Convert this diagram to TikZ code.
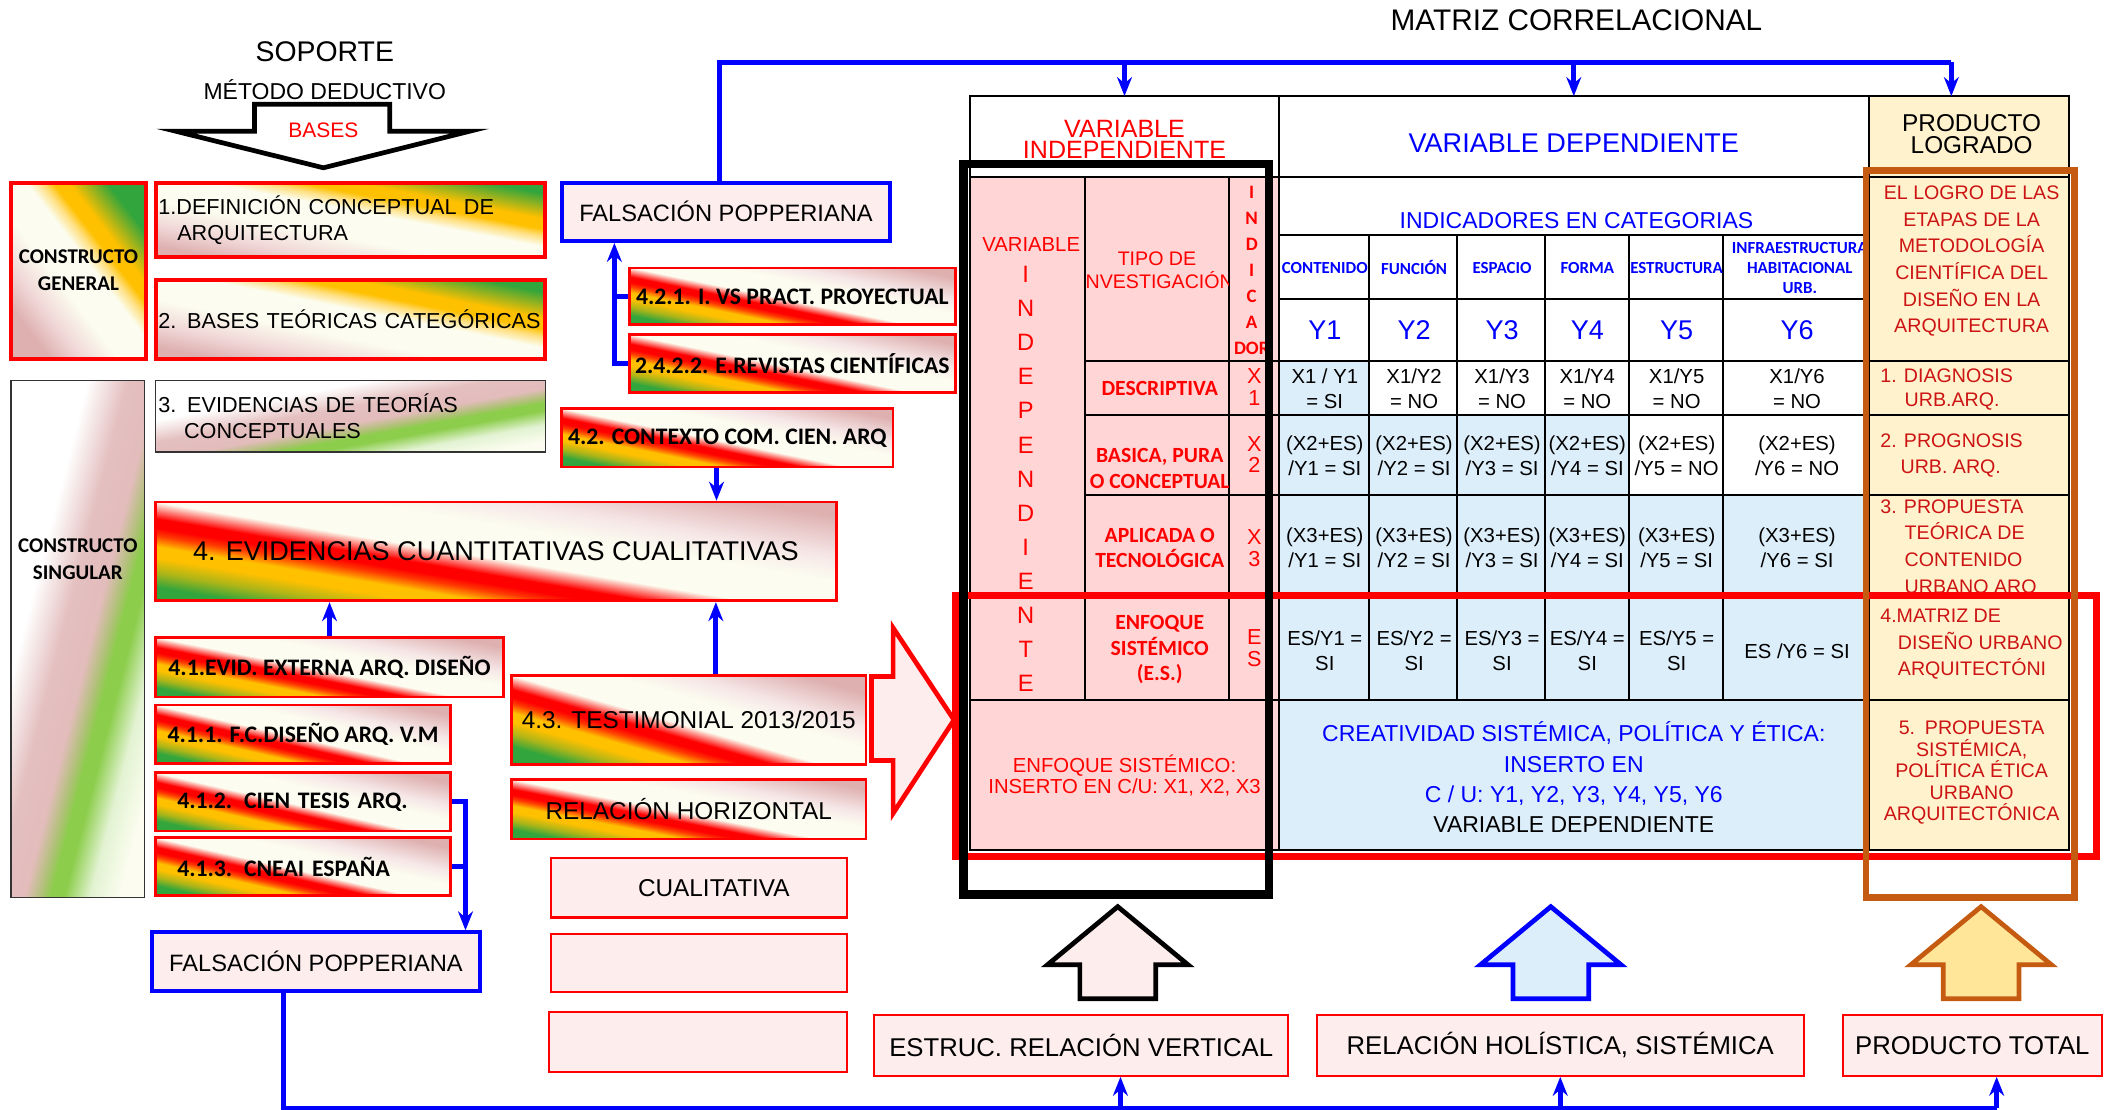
\documentclass[tikz,border=0pt]{standalone}
\usepackage{fontspec}
\setmainfont{Liberation Sans}
\newfontfamily\carl{Carlito}
\usetikzlibrary{arrows.meta}

\definecolor{bblue}{RGB}{0,0,255}
\definecolor{pinkbg}{RGB}{253,237,237}
\definecolor{cpink}{RGB}{255,213,213}
\definecolor{cblue}{RGB}{221,238,251}
\definecolor{cyell}{RGB}{255,242,204}
\definecolor{pred}{RGB}{204,20,20}
\definecolor{orng}{RGB}{197,90,17}
\definecolor{ayell}{RGB}{255,230,153}
\definecolor{sgreen}{RGB}{50,165,60}
\definecolor{syell}{RGB}{255,192,0}
\definecolor{spink}{RGB}{222,176,176}
\definecolor{spinkl}{RGB}{240,214,214}
\definecolor{swhite}{RGB}{252,253,240}
\definecolor{lgreen}{RGB}{140,205,75}

\pgfdeclareverticalshading{evid}{100bp}{color(0bp)=(sgreen); color(25bp)=(sgreen); color(29bp)=(syell!60!sgreen); color(33bp)=(syell); color(36bp)=(syell); color(39bp)=(red!70!syell); color(41bp)=(red); color(43.5bp)=(red); color(48bp)=(swhite); color(57bp)=(swhite); color(64bp)=(spinkl!60!white); color(75bp)=(spink); color(100bp)=(spink)}
\pgfdeclareverticalshading{bases}{100bp}{color(0bp)=(spink); color(25bp)=(spink); color(33bp)=(spinkl); color(43bp)=(swhite); color(54bp)=(swhite); color(58bp)=(syell!50!white); color(61bp)=(syell); color(65bp)=(syell); color(70bp)=(syell!50!sgreen); color(75bp)=(sgreen); color(100bp)=(sgreen)}
\pgfdeclareverticalshading{teor}{100bp}{color(0bp)=(white); color(37bp)=(white); color(46bp)=(spink!80!white); color(53bp)=(spink!85!white); color(57bp)=(lgreen!60!spink); color(59bp)=(lgreen); color(62bp)=(lgreen); color(68bp)=(lgreen!25!white); color(75bp)=(swhite); color(100bp)=(swhite)}

\tikzset{
  fnt/.style 2 args={font=\fontsize{#1}{#2}\selectfont},
  bfc/.style 2 args={font=\carl\bfseries\fontsize{#1}{#2}\selectfont},
  evbox/.style={draw=red, line width=2pt, shading=evid, shading angle=#1, inner sep=0pt, bfc={17.5}{20}},
  bsbox/.style={draw=red, line width=3pt, shading=bases, shading angle=#1, inner sep=0pt},
  tebox/.style={draw=black!80, line width=1pt, shading=teor, shading angle=#1, inner sep=0pt},
  fpbox/.style={draw=bblue, line width=3pt, fill=pinkbg, inner sep=0pt, fnt={17.5}{20}},
  pkbox/.style={draw=red, line width=1.5pt, fill=pinkbg, inner sep=0pt, fnt={19}{22}},
  bline/.style={bblue, line width=4pt},
  barrow/.style={bblue, line width=3.5pt, -{Stealth[length=14pt, width=11pt]}},
  tline/.style={black, line width=1.5pt},
  bigarr/.style={line width=3.5pt, line join=miter},
  cell/.style={fnt={15}{18.5}, align=center},
  prod/.style={fnt={14.5}{19.7}, pred},
}

\begin{document}
\begin{tikzpicture}[x=1pt, y=-1pt]
  \useasboundingbox (0,0) rectangle (1560,820);

  \node[fnt={21}{24}] (sop) at (240,38) {SOPORTE};
  \node[fnt={17}{20}] (met) at (240,66) {MÉTODO DEDUCTIVO};
  \node[fnt={22}{24}] (mat) at (1165,15) {MATRIZ CORRELACIONAL};
  \draw[bigarr, fill=white] (188,77) -- (288,77) -- (288,97) -- (347,97) -- (239,124) -- (130,97) -- (188,97) -- cycle;
  \node[fnt={15.5}{18}, red] (bas) at (239,96) {BASES};

  \node[bsbox=-52.4, minimum width=100pt, minimum height=130pt, bfc={15.5}{20}, align=center] (cg) at (58,200) {CONSTRUCTO\\GENERAL};
  \node[bsbox=-10.8, minimum width=288pt, minimum height=55pt, text width=284pt, align=left, fnt={16}{19}] (d1) at (259,162.5) {1.DEFINICIÓN CONCEPTUAL DE\\\hspace*{14pt}ARQUITECTURA};
  \node[bsbox=-11.4, minimum width=288pt, minimum height=58pt, text width=284pt, align=left, fnt={16}{19}] (d2) at (259,236) {2. BASES TEÓRICAS CATEGÓRICAS};
  \node[tebox=-169.6, minimum width=288pt, minimum height=53pt, text width=284pt, align=left, fnt={16}{19}] (d3) at (259,307.5) {3. EVIDENCIAS DE TEORÍAS\\\hspace*{19pt}CONCEPTUALES};
  \node[tebox=-104.5, minimum width=99pt, minimum height=382pt] (cs) at (57.5,472) {};
  \node[bfc={15.5}{20}, align=center] (cst) at (57.5,413) {CONSTRUCTO\\SINGULAR};

  \node[fpbox, minimum width=243pt, minimum height=43pt] (fp1) at (536.5,156.5) {FALSACIÓN POPPERIANA};
  \node[evbox=-11.6, minimum width=241pt, minimum height=42pt] (b421) at (585.5,219) {4.2.1. I. VS PRACT. PROYECTUAL};
  \node[evbox=-11.6, minimum width=241pt, minimum height=43pt] (b4222) at (585.5,268.5) {2.4.2.2. E.REVISTAS CIENTÍFICAS};
  \node[evbox=-11.5, minimum width=245pt, minimum height=43pt] (b42) at (537.5,323.5) {4.2. CONTEXTO COM. CIEN. ARQ};
  \node[evbox=-9.5, minimum width=503pt, minimum height=73pt, fnt={20}{22}] (b4) at (366.5,407.5) {4. EVIDENCIAS CUANTITATIVAS CUALITATIVAS};
  \node[evbox=-11.2, minimum width=257pt, minimum height=44pt] (b41) at (243.5,493) {4.1.EVID. EXTERNA ARQ. DISEÑO};
  \node[evbox=-12.8, minimum width=218pt, minimum height=43pt] (b411) at (224,542.5) {4.1.1. F.C.DISEÑO ARQ. V.M};
  \node[evbox=-12.8, minimum width=218pt, minimum height=43pt, text width=186pt, align=left] (b412) at (224,592.5) {4.1.2. CIEN TESIS ARQ.};
  \node[evbox=-12.8, minimum width=218pt, minimum height=43pt, text width=186pt, align=left] (b413) at (224,640.5) {4.1.3. CNEAI ESPAÑA};
  \node[fpbox, minimum width=243pt, minimum height=43pt] (fp2) at (233.5,710.5) {FALSACIÓN POPPERIANA};
  \node[evbox=-16, minimum width=262pt, minimum height=66pt, fnt={18}{20}] (b43) at (509,532) {4.3. TESTIMONIAL 2013/2015};
  \node[evbox=-11, minimum width=262pt, minimum height=44pt, fnt={18}{20}] (rh) at (509,598) {RELACIÓN HORIZONTAL};
  \node[pkbox, minimum width=219pt, minimum height=44pt, fnt={18}{20}] (cual) at (516.5,656) {\hspace*{22pt}CUALITATIVA};
  \node[pkbox, minimum width=219pt, minimum height=43pt] (e1) at (516.5,711.5) {};
  \node[pkbox, minimum width=220pt, minimum height=44pt] (e2) at (516,770) {};
  \draw[bigarr, draw=red, fill=pinkbg] (644,500) -- (660,500) -- (660,464) -- (705,532) -- (660,601) -- (660,562) -- (644,562) -- cycle;

  \def\tL{717} \def\cA{802} \def\cB{908} \def\cC{945}
  \def\dA{1012} \def\dB{1077} \def\dC{1142} \def\dD{1204} \def\dE{1273} \def\dF{1381} \def\tR{1529}
  \def\rA{71} \def\rB{131} \def\rC{174} \def\rD{221} \def\rE{267}
  \def\rF{307} \def\rG{366} \def\rH{441} \def\rI{517} \def\rJ{628}

  \fill[cpink] (\tL,\rB) rectangle (\cC,\rJ);
  \fill[cyell] (\dF,\rA) rectangle (\tR,\rJ);
  \fill[cblue] (\cC,\rE) rectangle (\dA,\rF);
  \fill[cblue] (\cC,\rF) rectangle (\dD,\rG);
  \fill[cblue] (\cC,\rG) rectangle (\dF,\rJ);

  \draw[tline] (\tL,\rA) rectangle (\tR,\rJ);
  \draw[tline] (\tL,\rB) -- (\tR,\rB);
  \draw[tline] (\cC,\rA) -- (\cC,\rJ);
  \draw[tline] (\dF,\rA) -- (\dF,\rJ);
  \draw[tline] (\cA,\rB) -- (\cA,\rI);
  \draw[tline] (\cB,\rB) -- (\cB,\rI);
  \draw[tline] (\cC,\rC) -- (\dF,\rC);
  \draw[tline] (\cC,\rD) -- (\dF,\rD);
  \draw[tline] (\cA,\rE) -- (\tR,\rE);
  \draw[tline] (\cA,\rF) -- (\tR,\rF);
  \draw[tline] (\cA,\rG) -- (\tR,\rG);
  \draw[tline] (\cA,\rH) -- (\tR,\rH);
  \draw[tline] (\tL,\rI) -- (\tR,\rI);
  \draw[tline] (\dA,\rC) -- (\dA,\rI);
  \draw[tline] (\dB,\rC) -- (\dB,\rI);
  \draw[tline] (\dC,\rC) -- (\dC,\rI);
  \draw[tline] (\dD,\rC) -- (\dD,\rI);
  \draw[tline] (\dE,\rC) -- (\dE,\rI);

  \node[fnt={18.5}{16}, red, align=center] (hvi) at (831,103) {VARIABLE\\INDEPENDIENTE};
  \node[fnt={20}{22}, bblue] (hvd) at (1163,106) {VARIABLE DEPENDIENTE};
  \node[fnt={18}{16}, align=center] (hpl) at (1457,99) {PRODUCTO\\LOGRADO};

  \node[fnt={15}{18}, red] (vvar) at (762,181) {VARIABLE};
  \node[fnt={17.5}{25.2}, red, align=center] (vind) at (758,354) {I\\N\\D\\E\\P\\E\\N\\D\\I\\E\\N\\T\\E};
  \begin{scope}
    \clip (\cA,\rB) rectangle (\cB,\rE);
    \node[fnt={14.5}{17}, red, align=center] (tipo) at (855,200) {TIPO DE\\INVESTIGACIÓN};
  \end{scope}
  \begin{scope}
    \clip (\cB,\rB) rectangle (\cC,\rE);
    \node[bfc={14}{19.2}, red, align=center] (indi) at (925,200) {I\\N\\D\\I\\C\\A\\DOR};
  \end{scope}
  \node[bfc={16}{19}, red] (tdes) at (857,287) {DESCRIPTIVA};
  \node[bfc={16}{19}, red, align=center] (tbas) at (857,346) {BASICA, PURA\\O CONCEPTUAL};
  \node[bfc={16}{19}, red, align=center] (tapl) at (857,405) {APLICADA O\\TECNOLÓGICA};
  \node[bfc={16}{19}, red, align=center] (tenf) at (857,480) {ENFOQUE\\SISTÉMICO\\(E.S.)};
  \node[fnt={16}{16}, red, align=center] (x1) at (927,286) {X\\1};
  \node[fnt={16}{16}, red, align=center] (x2) at (927,336) {X\\2};
  \node[fnt={16}{16}, red, align=center] (x3) at (927,405) {X\\3};
  \node[fnt={16}{16}, red, align=center] (xes) at (927,479) {E\\S};

  \node[fnt={17}{20}, bblue] (ind) at (1165,163) {INDICADORES EN CATEGORIAS};
  \node[bfc={12.5}{15}, bblue] (k1) at (979,198) {CONTENIDO};
  \node[bfc={12.5}{15}, bblue] (k2) at (1045,198) {FUNCIÓN};
  \node[bfc={12.5}{15}, bblue] (k3) at (1110,198) {ESPACIO};
  \node[bfc={12.5}{15}, bblue] (k4) at (1173,198) {FORMA};
  \node[bfc={12.5}{15}, bblue] (k5) at (1239,198) {ESTRUCTURA};
  \begin{scope}
    \clip (\dE,\rC) rectangle (\dF,\rD);
    \node[bfc={12.5}{15}, bblue, align=center] (k6) at (1330,198) {INFRAESTRUCTURA\\HABITACIONAL\\URB.};
  \end{scope}
  \node[fnt={20}{22}, bblue] (y1) at (979,244) {Y1};
  \node[fnt={20}{22}, bblue] (y2) at (1045,244) {Y2};
  \node[fnt={20}{22}, bblue] (y3) at (1110,244) {Y3};
  \node[fnt={20}{22}, bblue] (y4) at (1173,244) {Y4};
  \node[fnt={20}{22}, bblue] (y5) at (1239,244) {Y5};
  \node[fnt={20}{22}, bblue] (y6) at (1328,244) {Y6};

  \node[cell] (a1) at (979,287) {X1 / Y1\\= SI};
  \node[cell] (a2) at (1045,287) {X1/Y2\\= NO};
  \node[cell] (a3) at (1110,287) {X1/Y3\\= NO};
  \node[cell] (a4) at (1173,287) {X1/Y4\\= NO};
  \node[cell] (a5) at (1239,287) {X1/Y5\\= NO};
  \node[cell] (a6) at (1328,287) {X1/Y6\\= NO};
  \node[cell] (b1) at (979,337) {(X2+ES)\\/Y1 = SI};
  \node[cell] (b2) at (1045,337) {(X2+ES)\\/Y2 = SI};
  \node[cell] (b3) at (1110,337) {(X2+ES)\\/Y3 = SI};
  \node[cell] (b4c) at (1173,337) {(X2+ES)\\/Y4 = SI};
  \node[cell] (b5) at (1239,337) {(X2+ES)\\/Y5 = NO};
  \node[cell] (b6) at (1328,337) {(X2+ES)\\/Y6 = NO};
  \node[cell] (c1) at (979,405) {(X3+ES)\\/Y1 = SI};
  \node[cell] (c2) at (1045,405) {(X3+ES)\\/Y2 = SI};
  \node[cell] (c3) at (1110,405) {(X3+ES)\\/Y3 = SI};
  \node[cell] (c4) at (1173,405) {(X3+ES)\\/Y4 = SI};
  \node[cell] (c5) at (1239,405) {(X3+ES)\\/Y5 = SI};
  \node[cell] (c6) at (1328,405) {(X3+ES)\\/Y6 = SI};
  \node[cell] (e1c) at (979,481) {ES/Y1 =\\SI};
  \node[cell] (e2c) at (1045,481) {ES/Y2 =\\SI};
  \node[cell] (e3c) at (1110,481) {ES/Y3 =\\SI};
  \node[cell] (e4c) at (1173,481) {ES/Y4 =\\SI};
  \node[cell] (e5c) at (1239,481) {ES/Y5 =\\SI};
  \node[cell] (e6c) at (1328,481) {ES /Y6 = SI};

  \begin{scope}
    \clip (\tL,\rI) rectangle (\cC,\rJ);
    \node[fnt={15}{15.5}, red, align=center] (enf) at (831,573) {ENFOQUE SISTÉMICO:\\INSERTO EN C/U: X1, X2, X3};
  \end{scope}
  \node[fnt={17}{22.4}, align=center] (crea) at (1163,574.5) {\textcolor{bblue}{CREATIVIDAD SISTÉMICA, POLÍTICA Y ÉTICA:}\\\textcolor{bblue}{INSERTO EN}\\\textcolor{bblue}{C / U: Y1, Y2, Y3, Y4, Y5, Y6}\\VARIABLE DEPENDIENTE};

  \node[prod, align=center] (plog) at (1457,193) {EL LOGRO DE LAS\\ETAPAS DE LA\\METODOLOGÍA\\CIENTÍFICA DEL\\DISEÑO EN LA\\ARQUITECTURA};
  \node[prod, fnt={14.5}{18}, align=left, anchor=west] (p1) at (1386,288) {1. DIAGNOSIS\\\hspace*{18pt}URB.ARQ.};
  \node[prod, fnt={14.5}{19}, align=left, anchor=west] (p2) at (1386,336.5) {2. PROGNOSIS\\\hspace*{15pt}URB. ARQ.};
  \begin{scope}
    \clip (\dF,\rG) rectangle (\tR,\rH);
    \node[prod, align=left, anchor=west] (p3) at (1386,405) {3. PROPUESTA\\\hspace*{18pt}TEÓRICA DE\\\hspace*{18pt}CONTENIDO\\\hspace*{18pt}URBANO ARQ};
  \end{scope}
  \begin{scope}
    \clip (\dF,\rH) rectangle (\tR,\rI);
    \node[prod, align=left, anchor=west] (p4) at (1386,476) {4.MATRIZ DE\\\hspace*{13pt}DISEÑO URBANO\\\hspace*{13pt}ARQUITECTÓNI};
  \end{scope}
  \node[prod, fnt={14.5}{16}, align=center] (p5) at (1457,571) {5.\enspace PROPUESTA\\SISTÉMICA,\\POLÍTICA ÉTICA\\URBANO\\ARQUITECTÓNICA};

  \draw[red, line width=5pt] (706,440) rectangle (1549,633);
  \draw[black, line width=6pt] (712,121) rectangle (938,661);
  \draw[orng, line width=5pt] (1379,126) rectangle (1533,663);

  \draw[bigarr, fill=pinkbg] (798,738) -- (798,713) -- (774,713) -- (826,670) -- (878,713) -- (854,713) -- (854,738) -- cycle;
  \draw[bigarr, draw=bblue, fill=cblue] (1118,738) -- (1118,713) -- (1094,713) -- (1146,670) -- (1198,713) -- (1174,713) -- (1174,738) -- cycle;
  \draw[bigarr, draw=orng, fill=ayell] (1436,738) -- (1436,713) -- (1412,713) -- (1464,670) -- (1516,713) -- (1492,713) -- (1492,738) -- cycle;
  \node[pkbox, minimum width=306pt, minimum height=45pt] (ev) at (799,772.5) {ESTRUC. RELACIÓN VERTICAL};
  \node[pkbox, minimum width=360pt, minimum height=45pt] (hs) at (1153,772.5) {RELACIÓN HOLÍSTICA, SISTÉMICA};
  \node[pkbox, minimum width=191pt, minimum height=45pt] (ptot) at (1457.5,772.5) {PRODUCTO TOTAL};

  \coordinate (top) at (0,46);
  \coordinate (tab) at (0,71);
  \coordinate (base) at (0,819);
  \draw[bline] ([xshift=-5pt]fp1.north) |- ([xshift=-15pt]hpl.north |- top);
  \draw[barrow] (hvi.north |- top) -- (hvi.north |- tab);
  \draw[barrow] (hvd.north |- top) -- (hvd.north |- tab);
  \draw[barrow] ([xshift=-15pt]hpl.north |- top) -- ([xshift=-15pt]hpl.north |- tab);
  \draw[bline] (b4222.west) -- ([xshift=-10pt]b4222.west) |- (b421.west);
  \draw[barrow] ([xshift=-10pt]b4222.west) -- ([xshift=-10pt]b4222.west |- fp1.south);
  \draw[barrow] ([xshift=-8pt]b42.south) -- ([xshift=-8pt]b42.south |- b4.north);
  \draw[barrow] ([xshift=20pt]b43.north) -- ([xshift=20pt]b43.north |- b4.south);
  \draw[barrow] (b41.north) -- (b41.north |- b4.south);
  \draw[bline] (b412.east) -- ([xshift=10pt]b412.east) |- (b413.east);
  \draw[barrow] ([xshift=10pt]b412.east) -- ([xshift=10pt]b412.east |- fp2.north);
  \draw[bline] ([xshift=-24pt]fp2.south) |- ([xshift=18pt]ptot.south |- base);
  \draw[barrow] ([xshift=29pt]ev.south |- base) -- ([xshift=29pt]ev.south);
  \draw[barrow] (hs.south |- base) -- (hs.south);
  \draw[barrow] ([xshift=18pt]ptot.south |- base) -- ([xshift=18pt]ptot.south);
\end{tikzpicture}
\end{document}
